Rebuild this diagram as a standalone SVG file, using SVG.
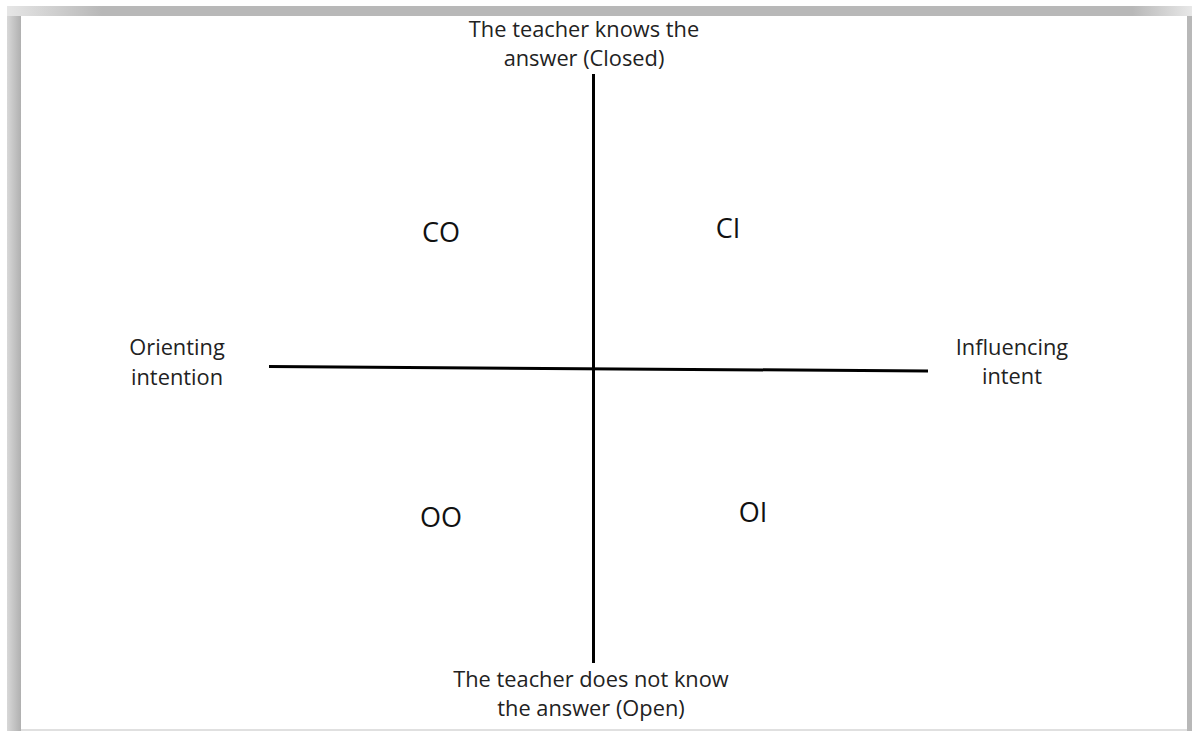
<svg xmlns="http://www.w3.org/2000/svg" width="1192" height="731" viewBox="0 0 1192 731">
<defs>
<linearGradient id="topg" x1="0" y1="0" x2="1" y2="0">
<stop offset="0" stop-color="#e6e6e6"/><stop offset="0.08" stop-color="#b8b8b8"/><stop offset="0.95" stop-color="#b8b8b8"/><stop offset="1" stop-color="#e8e8e8"/>
</linearGradient>
<linearGradient id="leftg" x1="0" y1="0" x2="1" y2="0">
<stop offset="0" stop-color="#d8d8d8"/><stop offset="1" stop-color="#b0b0b0"/>
</linearGradient>
<style>
.t{font-family:"Open Sans",Lato,sans-serif;font-size:21.8px;fill:#222;text-anchor:middle}
.q{font-family:"Open Sans",Lato,sans-serif;font-size:27px;fill:#111;text-anchor:middle}
.ax{stroke:#000;stroke-width:3;fill:none}
</style>
</defs>
<rect width="1192" height="731" fill="#fff"/>
<rect x="7" y="6" width="1185" height="10" fill="url(#topg)"/>
<rect x="7" y="16" width="14" height="715" fill="url(#leftg)"/>
<rect x="1187" y="16" width="5" height="715" fill="#b8b8b8"/>
<rect x="21" y="729" width="1166" height="2" fill="#e0e0e0"/>
<g id="connectors">
<line class="ax" x1="593.5" y1="74" x2="593.5" y2="663"/>
<line class="ax" x1="269" y1="366.5" x2="928" y2="371"/>
</g>
<g id="top"><text class="t" x="584" y="37">The teacher knows the</text><text class="t" x="584" y="66">answer (Closed)</text></g>
<g id="bottom"><text class="t" x="591" y="687">The teacher does not know</text><text class="t" x="591" y="716">the answer (Open)</text></g>
<g id="left"><text class="t" x="177" y="355">Orienting</text><text class="t" x="177" y="385">intention</text></g>
<g id="right"><text class="t" x="1012" y="355">Influencing</text><text class="t" x="1012" y="384">intent</text></g>
<g id="CO"><text class="q" x="441" y="242">CO</text></g>
<g id="CI"><text class="q" x="728" y="238">CI</text></g>
<g id="OO"><text class="q" x="441" y="527">OO</text></g>
<g id="OI"><text class="q" x="753" y="522">OI</text></g>
</svg>
